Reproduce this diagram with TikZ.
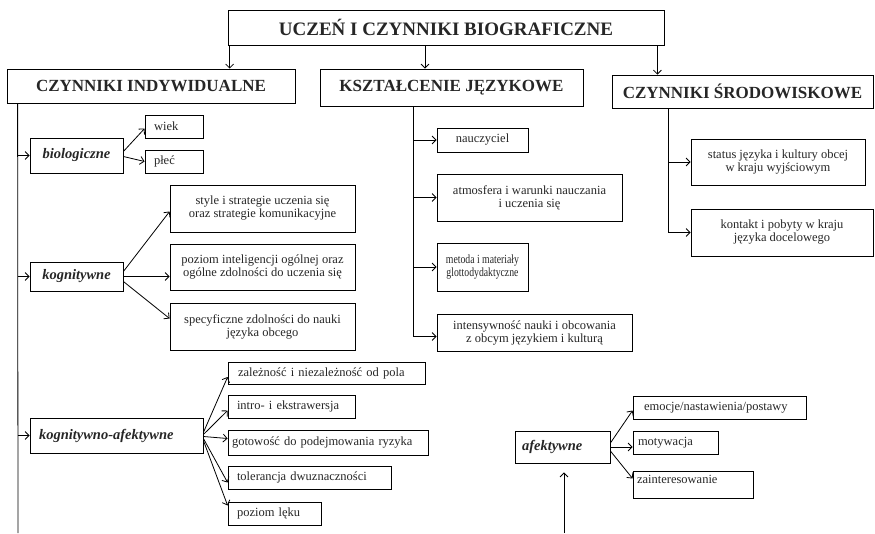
\documentclass[tikz,border=0pt]{standalone}
\usepackage{fontspec}
\setmainfont{Liberation Serif}
\newfontfamily\condserif{Liberation Serif}[FakeStretch=0.78]
\usetikzlibrary{arrows.meta}
\begin{document}
\begin{tikzpicture}[x=1pt,y=-1pt,
  box/.style={draw, line width=0.8pt, inner xsep=0pt, inner ysep=0pt, text=black!85},
  ttl/.style={font=\bfseries\fontsize{19}{21}\selectfont},
  hdr/.style={font=\bfseries\fontsize{17}{19}\selectfont},
  lab/.style={font=\bfseries\itshape\fontsize{14.5}{16}\selectfont},
  sml/.style={font=\fontsize{12.5}{13}\selectfont},
  cnd/.style={font=\condserif\fontsize{12.5}{13}\selectfont},
  cb/.style n args={2}{box, minimum width=#1pt, minimum height=#2pt, align=center},
  lb/.style n args={3}{box, text width=#1pt-#3pt-#3pt, inner xsep=#3pt, minimum height=#2pt, align=left},
  arr/.style={line width=0.8pt, -{Straight Barb[length=4pt,width=8pt]}},
  ln/.style={line width=0.8pt}
]
\useasboundingbox (0,0) rectangle (875,533);
\fill[white] (0,0) rectangle (875,533);
% top level
\node[cb={436}{35}, ttl] (top) at (446,27.5) {UCZEŃ I CZYNNIKI BIOGRAFICZNE};
\node[cb={288}{34}, hdr] (ind) at (151,86) {CZYNNIKI INDYWIDUALNE};
\node[cb={263}{37}, hdr] (ksz) at (451.5,87.5) {KSZTAŁCENIE JĘZYKOWE};
\node[cb={261}{33}, hdr] (sro) at (742.5,91.5) {CZYNNIKI ŚRODOWISKOWE};
% individual
\node[cb={93}{35}, lab] (bio) at (76.5,155.5) {biologiczne};
\node[lb={58}{23}{9}, sml] (wiek) at (174,126.5) {wiek};
\node[lb={58}{23}{9}, sml] (plec) at (174,161.5) {płeć};
\node[cb={93}{29}, lab] (kog) at (76.5,276.5) {kognitywne};
\node[cb={185}{47}, sml] (sty) at (262.5,208.5) {style i strategie uczenia się\\oraz strategie komunikacyjne};
\node[cb={185}{46}, sml] (poz) at (262.5,267) {poziom inteligencji ogólnej oraz\\ogólne zdolności do uczenia się};
\node[cb={185}{47}, sml] (spe) at (262.5,326.5) {specyficzne zdolności do nauki\\języka obcego};
\node[lb={173}{35}{9}, lab] (kaf) at (116.5,435.5) {kognitywno-afektywne};
\node[lb={197}{22}{10}, sml] (zal) at (326.5,373) {zależność i niezależność od pola};
\node[lb={127}{23}{9}, sml] (itr) at (291.5,406.5) {intro- i ekstrawersja};
\node[lb={200}{25}{4}, sml] (got) at (328,442.5) {gotowość do podejmowania ryzyka};
\node[lb={163}{23}{9}, sml] (tol) at (309.5,477.5) {tolerancja dwuznaczności};
\node[lb={93}{23}{9}, sml] (lek) at (274.5,513.5) {poziom lęku};
% language education
\node[cb={91}{24}, sml] (nau) at (482.5,140) {nauczyciel};
\node[cb={185}{47}, sml] (atm) at (529.5,197.5) {atmosfera i warunki nauczania\\i uczenia się};
\node[cb={91}{48}, cnd] (met) at (482.5,267) {metoda i materiały\\glottodydaktyczne};
\node[cb={195}{37}, sml] (int) at (534.5,332.5) {intensywność nauki i obcowania\\z obcym językiem i kulturą};
% environment
\node[cb={174}{46}, sml] (sta) at (778,162) {status języka i kultury obcej\\w kraju wyjściowym};
\node[cb={182}{47}, sml] (kon) at (782,232.5) {kontakt i pobyty w kraju\\języka docelowego};
% affective
\node[lb={95}{32}{7}, lab] (afe) at (562.5,447) {afektywne};
\node[lb={173}{23}{11}, sml] (emo) at (719.5,407.5) {emocje/nastawienia/postawy};
\node[lb={85}{23}{5}, sml] (mot) at (675.5,442.5) {motywacja};
\node[lb={120}{37}{4}, sml, text height=12pt, text depth=15pt, minimum height=0pt] (zai) at (693,484.5) {zainteresowanie};
% top arrows
\draw[arr] ([xshift=2pt]top.south west) -- ([xshift=2pt]top.south west |- ind.north);
\draw[arr] ([xshift=-21pt]top.south) -- ([xshift=-21pt]top.south |- ksz.north);
\draw[arr] ([xshift=-7pt]top.south east) -- ([xshift=-7pt]top.south east |- sro.north);
% individual trunk
\coordinate (indtop) at ([xshift=11pt]ind.south west);
\coordinate (indend) at (18,533);
\draw[ln] (indtop) -- (indend);
\draw[arr] (indtop |- bio.west) -- (bio.west);
\draw[arr] (indtop |- kog.west) -- (kog.west);
\draw[arr] (indtop |- kaf.west) -- (kaf.west);
\draw[arr] ([yshift=4pt]bio.east) -- ([yshift=-2pt]wiek.west);
\draw[arr] ([yshift=-1pt]bio.east) -- (plec.west);
\draw[arr] ([yshift=5pt]kog.east) -- ([yshift=-3pt]sty.west);
\draw[arr] (kog.east) -- (kog.east -| poz.west);
\draw[arr] ([yshift=-5pt]kog.east) -- ([yshift=8pt]spe.west);
\draw[arr] ([yshift=3pt]kaf.east) -- ([yshift=-4pt]zal.west);
\draw[arr] ([yshift=1pt]kaf.east) -- ([yshift=-4pt]itr.west);
\draw[arr] ([yshift=-1pt]kaf.east) -- ([yshift=4pt]got.west);
\draw[arr] ([yshift=-3pt]kaf.east) -- ([yshift=-5pt]tol.west);
\draw[arr] ([yshift=-5pt]kaf.east) -- ([yshift=8pt]lek.west);
% language education trunk
\coordinate (ksztop) at (413,106);
\draw[ln] (ksztop) -- (ksztop |- nau.west);
\draw[arr] (ksztop |- nau.west) -- (nau.west);
\draw[arr] (ksztop |- atm.west) -- (atm.west);
\draw[arr] (ksztop |- met.west) -- (met.west);
\draw[arr] (ksztop) |- ([yshift=-4pt]int.west);
% environment trunk
\coordinate (srotop) at (668,108);
\draw[arr] (srotop |- sta.west) -- (sta.west);
\draw[arr] (srotop) |- (kon.west);
% affective
\coordinate (afebot) at (564,533);
\draw[arr] (afebot) -- ([xshift=1.5pt,yshift=-9pt]afe.south);
\draw[arr] ([yshift=4pt]afe.east) -- ([yshift=-3pt]emo.west);
\draw[arr] (afe.east) -- (afe.east -| mot.west);
\draw[arr] ([yshift=-4pt]afe.east) -- ([yshift=6pt]zai.west);
\end{tikzpicture}
\end{document}
